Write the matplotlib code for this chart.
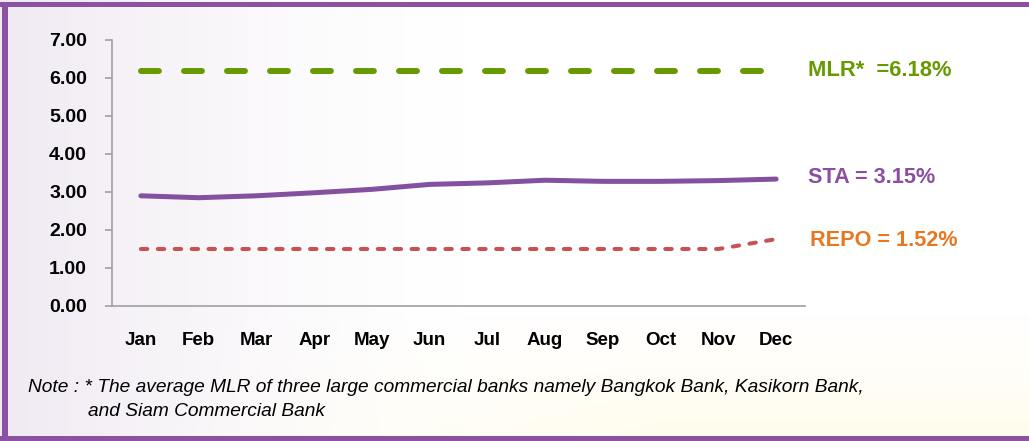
import numpy as np
import matplotlib
matplotlib.use("Agg")
import matplotlib.pyplot as plt
from matplotlib import font_manager

months = ["Jan", "Feb", "Mar", "Apr", "May", "Jun", "Jul", "Aug", "Sep", "Oct", "Nov", "Dec"]
mlr = [6.18, 6.18, 6.18, 6.18, 6.18, 6.18, 6.18, 6.18, 6.18, 6.18, 6.18, 6.18]
sta = [2.90, 2.85, 2.90, 2.98, 3.07, 3.20, 3.24, 3.31, 3.28, 3.28, 3.30, 3.34]
repo = [1.50, 1.50, 1.50, 1.50, 1.50, 1.50, 1.50, 1.50, 1.50, 1.50, 1.50, 1.76]
yticks = [0, 1, 2, 3, 4, 5, 6, 7]
label_mlr = "MLR*  =6.18%"
label_sta = "STA = 3.15%"
label_repo = "REPO = 1.52%"
note1 = "Note : * The average MLR of three large commercial banks namely Bangkok Bank, Kasikorn Bank,"
note2 = "and Siam Commercial Bank"

names = {f.name for f in font_manager.fontManager.ttflist}
narrow = "Liberation Sans Narrow" if "Liberation Sans Narrow" in names else "Liberation Sans"
plt.rcParams["font.family"] = ["Liberation Sans", "DejaVu Sans"]

W, H = 1029, 441
fig = plt.figure(figsize=(W / 100, H / 100), dpi=100)

# background gradient
bg = fig.add_axes([0, 0, 1, 1], zorder=-10)
xx, yy = np.meshgrid(np.linspace(0, 1, 300), np.linspace(0, 1, 130))
img = np.ones((130, 300, 3))
lav = np.array([0.93, 0.90, 0.94])
yel = np.array([1.0, 0.99, 0.93])
wl = np.clip(1 - xx / 0.45, 0, 1) ** 1.5 * 0.85
wy = np.clip((yy - 0.72) / 0.28, 0, 1) * np.clip((xx - 0.15) / 0.5, 0, 1)
for c in range(3):
    img[..., c] = 1 * (1 - wl) + lav[c] * wl
    img[..., c] = img[..., c] * (1 - wy) + yel[c] * wy
bg.imshow(img, aspect="auto", extent=[0, 1, 0, 1], origin="upper")
bg.set_xlim(0, 1); bg.set_ylim(0, 1); bg.axis("off")
# purple frame
border = "#8a52a0"
bg.add_patch(plt.Rectangle((0, 1 - 7 / H), 1, 5 / H, color=border, lw=0))
bg.add_patch(plt.Rectangle((2 / W, 0), 6 / W, 1 - 2 / H, color=border, lw=0))
bg.add_patch(plt.Rectangle((0, 0), 1, 5 / H, color=border, lw=0))

ax = fig.add_axes([112 / W, 1 - 306 / H, (805 - 112) / W, (306 - 40) / H])
ax.patch.set_alpha(0)
x = np.arange(len(months))

ax.plot(x, mlr, color="#669a00", lw=4.3, dashes=(3.0, 4.2), dash_capstyle="round", solid_capstyle="round")
ax.plot(x, sta, color="#8450a0", lw=3.6, solid_capstyle="round", solid_joinstyle="round")
ax.plot(x, repo, color="#c85252", lw=2.9, dashes=(1.6, 2.6), dash_capstyle="round")

ax.set_xlim(-0.5, 11.5)
ax.set_ylim(0, 7)
ax.set_yticks(yticks)
ax.set_yticklabels([f"{v:.2f}" for v in yticks])
ax.set_xticks(x)
ax.set_xticklabels(months)
for s in ["top", "right"]:
    ax.spines[s].set_visible(False)
for s in ["left", "bottom"]:
    ax.spines[s].set_color("#a0a0a0")
    ax.spines[s].set_linewidth(1.2)
ax.tick_params(axis="y", length=5, width=1.2, color="#a0a0a0", pad=13, labelsize=14)
ax.tick_params(axis="x", length=0, pad=19, labelsize=13.5)
for t in ax.get_xticklabels() + ax.get_yticklabels():
    t.set_fontweight("bold")

fig.text(808 / W, 1 - 70 / H, label_mlr, color="#669a00", fontsize=15.8, fontweight="bold", va="center", ha="left")
fig.text(808 / W, 1 - 178 / H, label_sta, color="#8a4fa0", fontsize=15.6, fontweight="bold", va="center", ha="left")
fig.text(810 / W, 1 - 241 / H, label_repo, color="#e87722", fontsize=15.6, fontweight="bold", va="center", ha="left")

fig.text(28 / W, 1 - 388 / H, note1, fontsize=13.8, style="italic", family=[narrow, "DejaVu Sans"], va="center", ha="left")
fig.text(88 / W, 1 - 412 / H, note2, fontsize=13.8, style="italic", family=[narrow, "DejaVu Sans"], va="center", ha="left")

fig.savefig("out.png", dpi=100)
